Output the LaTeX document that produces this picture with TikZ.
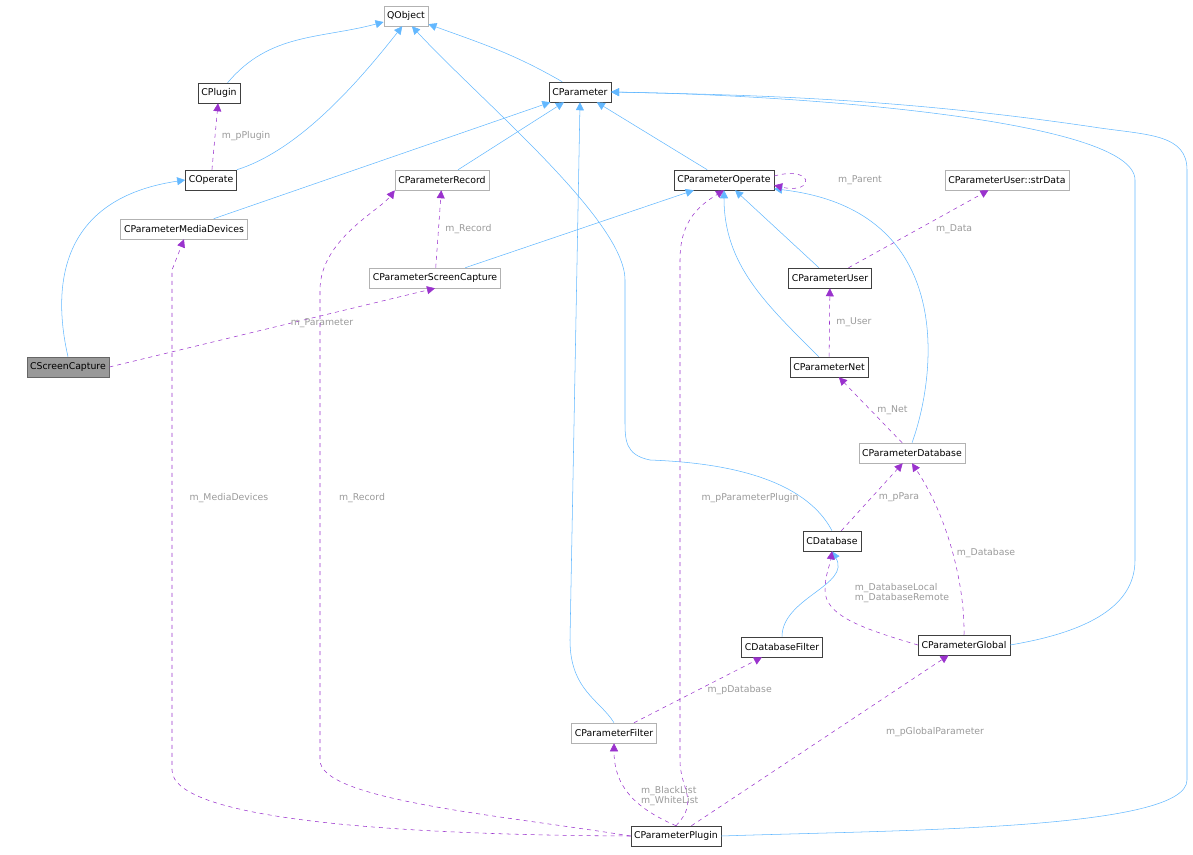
\documentclass[tikz,border=0pt]{standalone}
\usepackage{fontspec}
\setmainfont{DejaVu Sans}
\usetikzlibrary{arrows.meta}
\definecolor{inhblue}{HTML}{63B8FF}
\definecolor{usepurple}{HTML}{9A32CD}
\definecolor{lblgray}{HTML}{9A9A9A}
\tikzset{
  cls/.style={draw=black!75, fill=white, font=\fontsize{7}{8}\selectfont, inner sep=2.5pt, minimum height=15pt},
  ext/.style={cls, draw=black!30},
  cur/.style={cls, draw=black!60, fill=black!40},
  inh/.style={draw=inhblue, -{Triangle[length=6pt,width=6pt]}},
  use/.style={draw=usepurple, dashed, -{Triangle[length=6pt,width=6pt]}},
  lbl/.style={text=lblgray, font=\fontsize{7}{8}\selectfont, align=left, inner sep=1pt}
}
\begin{document}
\begin{tikzpicture}[x=0.75pt,y=-0.75pt]
\useasboundingbox (0,0) rectangle (1193,855);
% classes
\node[ext] (qobject) at (406,16) {QObject};
\node[cls] (plugin) at (219,93) {CPlugin};
\node[cls] (cparam) at (580,92) {CParameter};
\node[cls] (operate) at (211,180) {COperate};
\node[ext] (record) at (442,180) {CParameterRecord};
\node[cls] (paramop) at (724,180) {CParameterOperate};
\node[ext] (strdata) at (1007,180) {CParameterUser::strData};
\node[ext] (media) at (184,229) {CParameterMediaDevices};
\node[ext] (pscreen) at (435,278) {CParameterScreenCapture};
\node[cls] (user) at (830,278) {CParameterUser};
\node[cur] (screen) at (68,367) {CScreenCapture};
\node[cls] (net) at (829,367) {CParameterNet};
\node[ext] (pdb) at (912,453) {CParameterDatabase};
\node[cls] (database) at (832,541) {CDatabase};
\node[cls] (dbfilter) at (782,647) {CDatabaseFilter};
\node[cls] (global) at (964,645) {CParameterGlobal};
\node[ext] (filter) at (614,733) {CParameterFilter};
\node[cls] (pplugin) at (676,836) {CParameterPlugin};
% inheritance
\draw[inh] (plugin) to[out=50,in=195] (qobject);
\draw[inh] (operate.north east) .. controls (300,150) and (360,80) .. (qobject.250);
\draw[inh] (cparam) to[out=150,in=-20] (qobject);
\draw[inh] (database.north) .. controls (800,470) and (700,462) .. (650,460)
  .. controls (625,455) and (625,440) .. (625,420) -- (625,280)
  .. controls (625,220) and (480,100) .. (qobject.300);
\draw[inh] (record) -- (cparam);
\draw[inh] (media) -- (cparam);
\draw[inh] (paramop) -- (cparam);
\draw[inh] (filter.north) .. controls (600,700) and (570,690) .. (570,640) -- (cparam.south);
\draw[inh] (global.east) .. controls (1100,630) and (1135,600) .. (1135,560) -- (1135,180)
  .. controls (1135,120) and (800,95) .. (cparam.east);
\draw[inh] (pplugin.east) .. controls (900,830) and (1187,830) .. (1187,780) -- (1187,170)
  .. controls (1187,135) and (1150,135) .. (1100,128) .. controls (900,98) and (750,95) .. (cparam.east);
\draw[inh] (screen.north) .. controls (55,300) and (50,200) .. (operate.west);
\draw[inh] (pscreen) -- (paramop);
\draw[inh] (user) -- (paramop);
\draw[inh] (net) to[out=135,in=-90] (paramop);
\draw[inh] (pdb.north) .. controls (935,380) and (960,210) .. (paramop.-10);
\draw[inh] (dbfilter.north) to[out=90,in=-60] (database.south);
% usage
\draw[use] (operate) -- node[lbl, right=4pt] {m\_pPlugin} (plugin);
\draw[use] (pscreen) -- node[lbl, right=4pt] {m\_Record} (record);
\draw[use] (paramop.east) ++(0,-4) .. controls (815,165) and (815,195) .. ([yshift=-4]paramop.east);
\node[lbl] at (860,180) {m\_Parent};
\draw[use] (screen.east) -- (pscreen.south);
\node[lbl] at (322,323) {m\_Parameter};
\draw[use] (user) -- node[lbl, right=12pt] {m\_Data} (strdata);
\draw[use] (net) -- node[lbl, right=4pt] {m\_User} (user);
\draw[use] (pdb) -- node[lbl, right=4pt] {m\_Net} (net);
\draw[use] (database) -- node[lbl, right=4pt] {m\_pPara} (pdb);
\draw[use] (global.north) .. controls (965,590) and (950,520) .. node[lbl, right=2pt] {m\_Database} (pdb.south);
\draw[use] (global.west) .. controls (860,628) and (825,615) .. (825,590) .. controls (825,575) and (830,565) .. (database.south);
\node[lbl] at (902,593) {m\_DatabaseLocal\\m\_DatabaseRemote};
\draw[use] (filter) -- node[lbl, right=6pt] {m\_pDatabase} (dbfilter);
\draw[use] (pplugin.north) .. controls (640,810) and (614,790) .. node[lbl, right=6pt] {m\_BlackList\\m\_WhiteList} (filter.south);
\draw[use] (pplugin) -- (global);
\node[lbl] at (935,732) {m\_pGlobalParameter};
\draw[use] (pplugin.north) .. controls (700,800) and (680,790) .. (680,760) -- (680,260)
  .. controls (680,220) and (700,205) .. (paramop.south);
\node[lbl] at (750,498) {m\_pParameterPlugin};
\draw[use] (pplugin.west) .. controls (500,815) and (320,800) .. (320,760) -- (320,290)
  .. controls (320,240) and (380,210) .. (record.south west);
\node[lbl] at (362,498) {m\_Record};
\draw[use] (pplugin.west) .. controls (400,835) and (172,820) .. (172,770) -- (172,270) -- (media.south);
\node[lbl] at (229,498) {m\_MediaDevices};
\end{tikzpicture}
\end{document}
